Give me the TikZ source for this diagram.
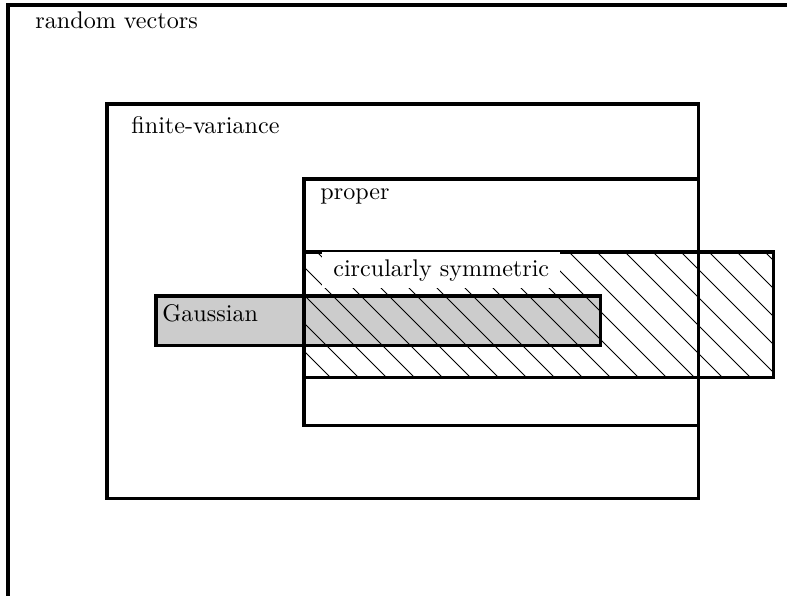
\documentclass[tikz,border=0pt]{standalone}
\begin{document}
\begin{tikzpicture}[x=0.415pt,y=-0.415pt,
  boxline/.style={line width=1.25pt},
  hatchline/.style={line width=0.4pt},
  lbl/.style={anchor=base west,inner sep=0pt,font=\normalsize}]
\useasboundingbox (0,0) rectangle (787,595);
\clip (0,0) rectangle (787,595);
% gray fill of Gaussian
\fill[black!20] (156,296) rectangle (600,345);
% hatching of circularly symmetric
\begin{scope}
  \clip (304,252) rectangle (773,377);
  \foreach \k in {-6,...,18}{
    \draw[hatchline] ({65+28*\k+252},252) -- ({65+28*\k+377},377);
  }
\end{scope}
% borders
\draw[boxline] (8,5) rectangle (900,700);
\draw[boxline] (107,104) rectangle (698,498);
\draw[boxline] (304,179) rectangle (698,425);
\draw[boxline] (304,252) rectangle (773,377);
\draw[boxline] (156,296) rectangle (600,345);
% labels
\node[lbl] (rv) at (35,28) {random vectors};
\node[lbl] (fv) at (131,133) {finite-variance};
\node[lbl] (pr) at (320,199) {proper};
\node[lbl,fill=white,inner xsep=4.5pt,inner ysep=3pt] (cs) at (322,276) {circularly symmetric};
\node[lbl] (ga) at (162,321) {Gaussian};
\end{tikzpicture}
\end{document}
